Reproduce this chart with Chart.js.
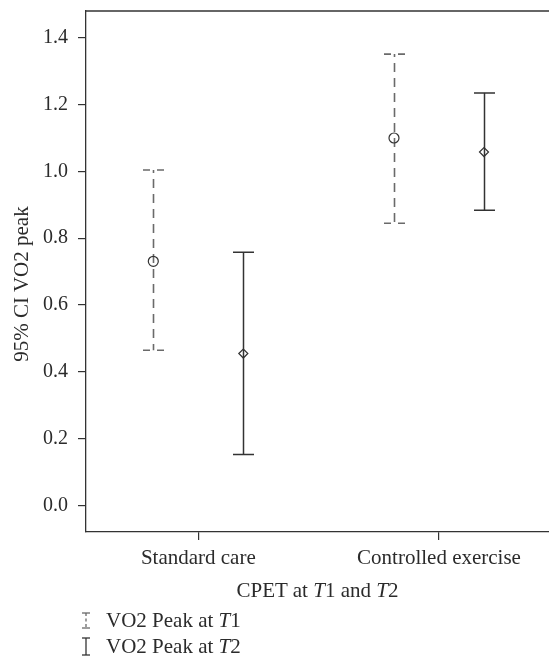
<!DOCTYPE html>
<html>
<head>
<meta charset="utf-8">
<script src="https://cdn.jsdelivr.net/npm/chart.js@4/dist/chart.umd.min.js"></script>
<style>
  html, body { margin: 0; padding: 0; background: #fff; }
  #wrap { position: relative; width: 549px; height: 667px; overflow: hidden; font-family: "Liberation Serif", "Times New Roman", serif; color: #2b2b2b; }
  #c { position: absolute; left: 0; top: 0; }
  #ytitle { position: absolute; width: 240px; left: -99px; top: 272px; height: 24px; line-height: 24px; text-align: center; font-size: 21px; transform: rotate(-90deg); transform-origin: 50% 50%; white-space: nowrap; }
  #xtitle { position: absolute; left: 86px; width: 463px; top: 578px; height: 24px; line-height: 24px; text-align: center; font-size: 21px; white-space: nowrap; }
  #legend { position: absolute; left: 80px; top: 607px; font-size: 21px; }
  .item { height: 26px; line-height: 26px; display: flex; align-items: center; white-space: nowrap; }
  .item svg { margin-right: 14px; }
</style>
</head>
<body>
<div id="wrap">
  <canvas id="c" width="549" height="667"></canvas>
  <div id="ytitle">95% CI VO2 peak</div>
  <div id="xtitle">CPET at <i>T</i>1 and <i>T</i>2</div>
  <div id="legend"></div>
</div>
<script>
// ---- data ----
const categories = ['Standard care', 'Controlled exercise'];
const seriesNames = ['VO2 Peak at T1', 'VO2 Peak at T2'];
const t1Mean = [0.731, 1.100];
const t1Low  = [0.465, 0.845];
const t1High = [1.004, 1.351];
const t2Mean = [0.455, 1.058];
const t2Low  = [0.153, 0.884];
const t2High = [0.758, 1.235];
const yTicks = [0.0, 0.2, 0.4, 0.6, 0.8, 1.0, 1.2, 1.4];
const yTickLabels = ['0.0', '0.2', '0.4', '0.6', '0.8', '1.0', '1.2', '1.4'];

// ---- layout / style constants ----
const seriesOffset = [-0.187, 0.187];
const FONT = '"Liberation Serif", "Times New Roman", serif';
const INK = '#2b2b2b';
const styles = [
  { color: '#6a6a6a', width: 1.6, dash: [9, 6], marker: 'circle', radius: 5 },
  { color: '#333333', width: 1.5, dash: [], marker: 'rectRot', radius: 4.5 }
];

function buildSeries(means, lows, highs, si) {
  return means.map((m, i) => ({ x: i + 1 + seriesOffset[si], y: m, low: lows[i], high: highs[i] }));
}

const datasets = [
  { label: seriesNames[0], data: buildSeries(t1Mean, t1Low, t1High, 0) },
  { label: seriesNames[1], data: buildSeries(t2Mean, t2Low, t2High, 1) }
].map((d, i) => Object.assign(d, {
  showLine: false,
  pointStyle: styles[i].marker,
  pointRadius: styles[i].radius,
  pointBorderColor: '#333',
  pointBackgroundColor: 'rgba(0,0,0,0)',
  pointBorderWidth: 1.2
}));

const errorBars = {
  id: 'errorBars',
  beforeDatasetsDraw(chart) {
    const ctx = chart.ctx, xs = chart.scales.x, ys = chart.scales.y;
    chart.data.datasets.forEach((ds, di) => {
      const st = styles[di];
      ds.data.forEach(p => {
        const x = Math.round(xs.getPixelForValue(p.x)) + 0.5;
        const yl = ys.getPixelForValue(p.low);
        const yh = ys.getPixelForValue(p.high);
        ctx.save();
        ctx.strokeStyle = st.color;
        ctx.lineWidth = st.width;
        const hw = 10.5;
        if (st.dash.length) {
          [yh, yl].forEach(y => {
            ctx.beginPath();
            ctx.moveTo(x - hw, y); ctx.lineTo(x - 3.5, y);
            ctx.moveTo(x + 3.5, y); ctx.lineTo(x + hw, y);
            ctx.stroke();
          });
          ctx.setLineDash(st.dash);
          ctx.lineDashOffset = 6;
        } else {
          ctx.beginPath();
          ctx.moveTo(x - hw, yh); ctx.lineTo(x + hw, yh);
          ctx.moveTo(x - hw, yl); ctx.lineTo(x + hw, yl);
          ctx.stroke();
        }
        ctx.beginPath();
        ctx.moveTo(x, yh); ctx.lineTo(x, yl);
        ctx.stroke();
        ctx.restore();
      });
    });
  }
};

const topBorder = {
  id: 'topBorder',
  afterDraw(chart) {
    const { ctx, chartArea } = chart;
    ctx.save();
    ctx.strokeStyle = '#333';
    ctx.lineWidth = 1.3;
    ctx.beginPath();
    ctx.moveTo(chartArea.left, chartArea.top);
    ctx.lineTo(chart.width, chartArea.top);
    ctx.stroke();
    ctx.restore();
  }
};

new Chart(document.getElementById('c'), {
  type: 'scatter',
  data: { datasets },
  options: {
    responsive: false,
    animation: false,
    events: [],
    layout: { autoPadding: false, padding: { top: 11, right: 0, bottom: 0, left: 0 } },
    plugins: { legend: { display: false }, tooltip: { enabled: false } },
    scales: {
      x: {
        type: 'linear',
        min: 0.5334,
        max: 2.457,
        afterBuildTicks: s => { s.ticks = categories.map((c, i) => ({ value: i + 1 })); },
        afterFit: s => { s.height = 135; s.paddingLeft = 0; s.paddingRight = 0; },
        ticks: {
          callback: (v) => categories[Math.round(v) - 1],
          font: { family: FONT, size: 21 },
          color: INK,
          padding: 6,
          maxRotation: 0,
          autoSkip: false
        },
        grid: { display: true, drawOnChartArea: false, drawTicks: true, tickLength: 8, color: '#333', lineWidth: 1.2 },
        border: { display: true, color: '#333', width: 1.3 }
      },
      y: {
        type: 'linear',
        min: -0.079,
        max: 1.48,
        afterBuildTicks: s => { s.ticks = yTicks.map(v => ({ value: v })); },
        afterFit: s => { s.width = 86; s.paddingTop = 0; s.paddingBottom = 0; },
        ticks: {
          callback: (v) => yTickLabels[yTicks.findIndex(t => Math.abs(t - v) < 1e-9)],
          font: { family: FONT, size: 20 },
          color: INK,
          padding: 10
        },
        grid: { display: true, drawOnChartArea: false, drawTicks: true, tickLength: 8, color: '#333', lineWidth: 1.2 },
        border: { display: true, color: '#333', width: 1.3 }
      }
    }
  },
  plugins: [errorBars, topBorder]
});

// ---- legend (HTML) ----
const legend = document.getElementById('legend');
seriesNames.forEach((name, i) => {
  const st = styles[i];
  const item = document.createElement('div');
  item.className = 'item';
  const h = i === 0 ? 15 : 17;
  const dash = st.dash.length ? 'stroke-dasharray="3,2.5"' : '';
  item.innerHTML =
    '<svg width="12" height="' + (h + 2) + '" viewBox="0 0 12 ' + (h + 2) + '">' +
    '<line x1="2" y1="1" x2="10" y2="1" stroke="' + st.color + '" stroke-width="1.3"/>' +
    '<line x1="2" y1="' + (h + 1) + '" x2="10" y2="' + (h + 1) + '" stroke="' + st.color + '" stroke-width="1.3"/>' +
    '<line x1="6" y1="1" x2="6" y2="' + (h + 1) + '" stroke="' + st.color + '" stroke-width="1.3" ' + dash + '/>' +
    '</svg><span>' + name.replace(/T(\d)$/, '<i>T</i>$1') + '</span>';
  legend.appendChild(item);
});
</script>
</body>
</html>
